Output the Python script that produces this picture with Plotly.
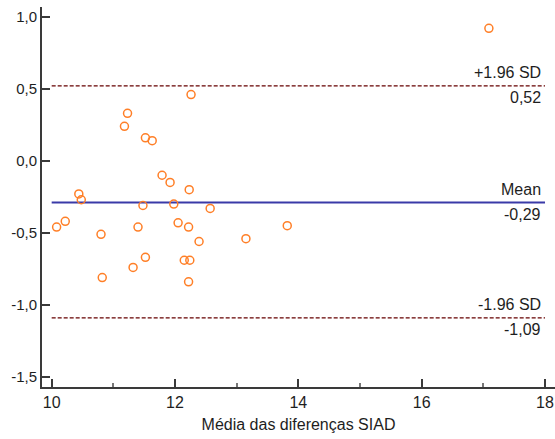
import plotly.graph_objects as go

# Bland-Altman data: mean of measurements vs. difference
mean_vals = [10.08, 10.22, 10.44, 10.48, 10.80, 10.82, 11.23, 11.18, 11.32, 11.40,
             11.48, 11.52, 11.52, 11.63, 11.79, 11.92, 11.98, 12.05, 12.23, 12.22,
             12.15, 12.24, 12.22, 12.26, 12.39, 12.57, 13.15, 13.82, 17.09]
diff_vals = [-0.46, -0.42, -0.23, -0.27, -0.51, -0.81, 0.33, 0.24, -0.74, -0.46,
             -0.31, -0.67, 0.16, 0.14, -0.10, -0.15, -0.30, -0.43, -0.20, -0.46,
             -0.69, -0.69, -0.84, 0.46, -0.56, -0.33, -0.54, -0.45, 0.92]

mean_diff = -0.29
upper_loa = 0.52
lower_loa = -1.09
line_x = [10, 18]

x_ticks = [10, 12, 14, 16, 18]
y_ticks = [1.0, 0.5, 0.0, -0.5, -1.0, -1.5]
y_tick_text = ["1,0", "0,5", "0,0", "-0,5", "-1,0", "-1,5"]

axis_col = "#3a3a3a"
text_col = "#1e1e1e"
font_family = "Liberation Sans, Arial, sans-serif"

fig = go.Figure()

for val in (upper_loa, lower_loa):
    fig.add_trace(go.Scatter(
        x=line_x, y=[val, val], mode="lines",
        line=dict(color="#660000", width=1.2, dash="4px,2px"), hoverinfo="skip"))
fig.add_trace(go.Scatter(
    x=line_x, y=[mean_diff, mean_diff], mode="lines",
    line=dict(color="#3a3aa8", width=2), hoverinfo="skip"))

fig.add_trace(go.Scatter(
    x=mean_vals, y=diff_vals, mode="markers",
    marker=dict(symbol="circle-open", size=8, color="#ff7f27",
                line=dict(width=1.5, color="#ff7f27"))))

def fmt(v):
    return f"{v:.2f}".replace(".", ",")

labels = [("+1.96 SD", upper_loa), ("Mean", mean_diff), ("-1.96 SD", lower_loa)]
for name, val in labels:
    fig.add_annotation(x=18, y=val, xref="x", yref="y", text=name,
                       showarrow=False, xanchor="right", yanchor="middle",
                       xshift=-2, yshift=13,
                       font=dict(size=16, color=text_col, family=font_family))
    fig.add_annotation(x=18, y=val, xref="x", yref="y", text=fmt(val),
                       showarrow=False, xanchor="right", yanchor="middle",
                       xshift=-2, yshift=-12,
                       font=dict(size=16, color=text_col, family=font_family))

fig.update_layout(
    width=555, height=439,
    margin=dict(l=42, r=0, t=7, b=52),
    paper_bgcolor="white", plot_bgcolor="white",
    showlegend=False,
    font=dict(family=font_family, size=15, color=text_col),
    xaxis=dict(
        range=[9.843, 18.162], showgrid=False, zeroline=False,
        showline=True, linecolor=axis_col, linewidth=2,
        ticks="inside", ticklen=8, tickwidth=2, tickcolor=axis_col,
        tickvals=x_ticks, tickfont=dict(size=16, color=text_col),
        minor=dict(ticks="inside", ticklen=4, tickwidth=1.5,
                   tickcolor="#777777", dtick=1, tick0=0, showgrid=False),
        title=dict(text="Média das diferenças SIAD", standoff=9,
                   font=dict(size=16, color=text_col)),
    ),
    yaxis=dict(
        range=[-1.570, 1.068], showgrid=False, zeroline=False,
        showline=True, linecolor=axis_col, linewidth=2,
        ticks="inside", ticklen=8, tickwidth=2, tickcolor=axis_col,
        tickvals=y_ticks, ticktext=y_tick_text,
        tickfont=dict(size=15, color=text_col),
    ),
)

fig.write_html("out.html")
